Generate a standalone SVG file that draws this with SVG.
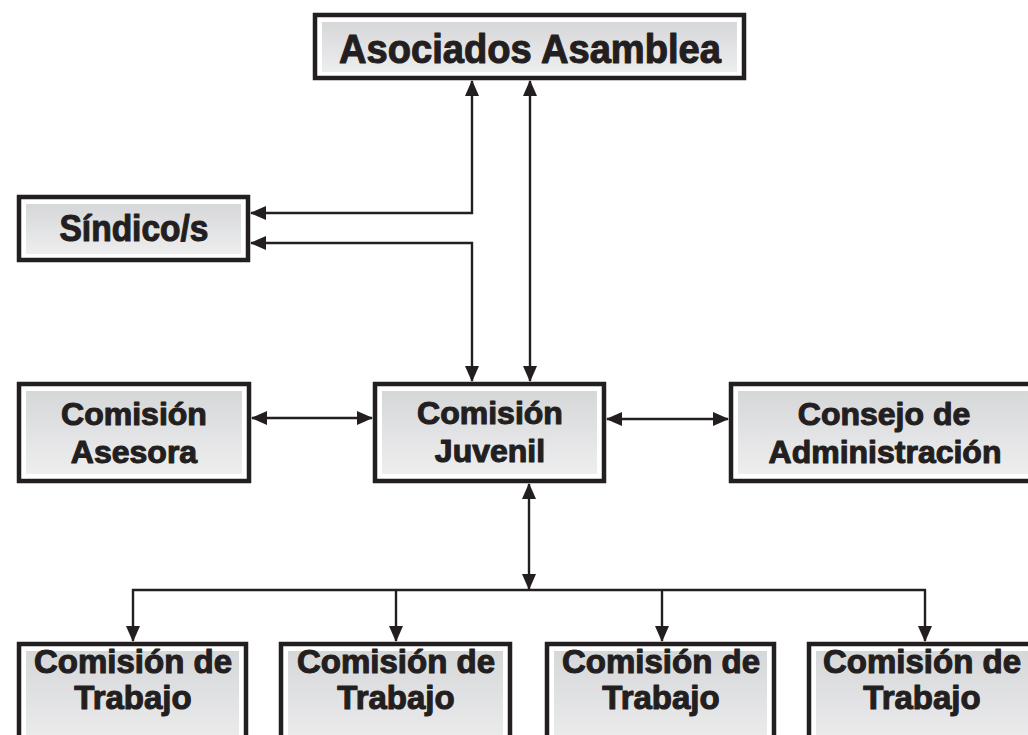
<svg xmlns="http://www.w3.org/2000/svg" width="1028" height="735" viewBox="0 0 1028 735">
<defs>
<linearGradient id="g" x1="0" y1="0" x2="0" y2="1">
<stop offset="0" stop-color="#d6d7d9"/>
<stop offset="1" stop-color="#eeeeef"/>
</linearGradient>
<marker id="ah" viewBox="0 0 16 14" refX="15" refY="7" markerWidth="16" markerHeight="14" markerUnits="userSpaceOnUse" orient="auto-start-reverse">
<path d="M0,0 L16,7 L0,14 z" fill="#231f20"/>
</marker>
<style>
.frame{fill:#ffffff;stroke:#231f20;stroke-width:4.5}
.fill{fill:url(#g)}
.t{font-family:"Liberation Sans",Arial,sans-serif;font-weight:bold;fill:#231f20;stroke:#231f20;stroke-width:1.1;stroke-linejoin:round;text-anchor:middle}
.c{fill:none;stroke:#231f20;stroke-width:2.4}
</style>
</defs>
<rect width="1028" height="735" fill="#ffffff"/>
<g id="connectors">
<path class="c" d="M530,81 V381" marker-start="url(#ah)" marker-end="url(#ah)"/>
<path class="c" d="M472,81 V213 H251" marker-start="url(#ah)" marker-end="url(#ah)"/>
<path class="c" d="M251,243 H472 V381" marker-start="url(#ah)" marker-end="url(#ah)"/>
<path class="c" d="M252,418 H372" marker-start="url(#ah)" marker-end="url(#ah)"/>
<path class="c" d="M607,419 H728" marker-start="url(#ah)" marker-end="url(#ah)"/>
<path class="c" d="M529,484 V589" marker-start="url(#ah)" marker-end="url(#ah)"/>
<path class="c" d="M133,641 V590 H925 V641" marker-start="url(#ah)" marker-end="url(#ah)"/>
<path class="c" d="M396,590 V641" marker-end="url(#ah)"/>
<path class="c" d="M662,590 V641" marker-end="url(#ah)"/>
</g>
<g id="asociados">
<rect class="frame" x="315" y="15" width="429" height="63"/>
<rect class="fill" x="322" y="22" width="415" height="50"/>
<text class="t" x="530" y="63" font-size="41" textLength="382" lengthAdjust="spacingAndGlyphs">Asociados Asamblea</text>
</g>
<g id="sindico">
<rect class="frame" x="19" y="197" width="229" height="63"/>
<rect class="fill" x="26" y="204" width="215" height="50"/>
<text class="t" x="134" y="241" font-size="36" textLength="149" lengthAdjust="spacingAndGlyphs">Síndico/s</text>
</g>
<g id="asesora">
<rect class="frame" x="19" y="384" width="230" height="97"/>
<rect class="fill" x="26" y="391" width="216" height="83"/>
<text class="t" x="134" y="425" font-size="32">Comisión</text>
<text class="t" x="134" y="463" font-size="32">Asesora</text>
</g>
<g id="juvenil">
<rect class="frame" x="375" y="384" width="229" height="97"/>
<rect class="fill" x="382" y="391" width="215" height="83"/>
<text class="t" x="490" y="424" font-size="32">Comisión</text>
<text class="t" x="490" y="462" font-size="32">Juvenil</text>
</g>
<g id="consejo">
<rect class="frame" x="731" y="384" width="310" height="97"/>
<rect class="fill" x="738" y="391" width="296" height="83"/>
<text class="t" x="884" y="425" font-size="32">Consejo de</text>
<text class="t" x="885" y="463" font-size="32">Administración</text>
</g>
<g id="trabajo1">
<rect class="frame" x="19" y="644" width="227" height="110"/>
<rect class="fill" x="26" y="651" width="213" height="100"/>
<text class="t" x="133" y="673" font-size="33">Comisión de</text>
<text class="t" x="133" y="709" font-size="33">Trabajo</text>
</g>
<g id="trabajo2">
<rect class="frame" x="281" y="644" width="229" height="110"/>
<rect class="fill" x="288" y="651" width="215" height="100"/>
<text class="t" x="396" y="673" font-size="33">Comisión de</text>
<text class="t" x="396" y="709" font-size="33">Trabajo</text>
</g>
<g id="trabajo3">
<rect class="frame" x="547" y="644" width="227" height="110"/>
<rect class="fill" x="554" y="651" width="213" height="100"/>
<text class="t" x="661" y="673" font-size="33">Comisión de</text>
<text class="t" x="661" y="709" font-size="33">Trabajo</text>
</g>
<g id="trabajo4">
<rect class="frame" x="809" y="644" width="229" height="110"/>
<rect class="fill" x="816" y="651" width="215" height="100"/>
<text class="t" x="922" y="673" font-size="33">Comisión de</text>
<text class="t" x="922" y="709" font-size="33">Trabajo</text>
</g>
</svg>
